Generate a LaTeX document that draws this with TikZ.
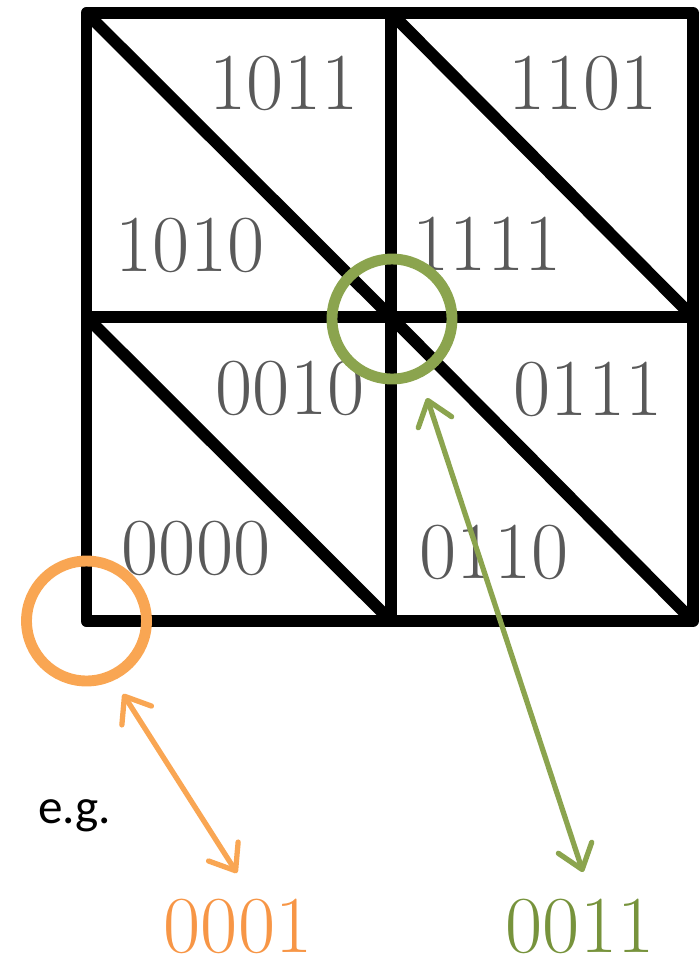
\documentclass[tikz,border=0pt]{standalone}
\usepackage{fontspec}
\newfontfamily\egfont{Carlito}
\usetikzlibrary{arrows.meta}
\definecolor{codegray}{RGB}{89,89,89}
\definecolor{ringorange}{RGB}{249,166,83}
\definecolor{textorange}{RGB}{247,150,70}
\definecolor{ringgreen}{RGB}{139,164,78}
\definecolor{textgreen}{RGB}{119,147,60}

\begin{document}
\begin{tikzpicture}[x=0.02cm,y=-0.02cm,
  edge/.style={line width=6.8pt,line join=round},
  code/.style={inner sep=0pt,text=codegray,font=\fontsize{46}{46}\selectfont},
  ring/.style={circle,draw=#1,line width=6.2pt,minimum size=2.4cm,inner sep=0pt},
  link/.style={draw=#1,line width=3pt,>={Straight Barb[length=13pt,width=20pt,round]},<->}]
  \useasboundingbox (0,0) rectangle (698,961);
  % grid of four cells, each cut by its diagonal
  \draw[edge] (86.5,13) rectangle (693,621);
  \draw[edge] (391,13) -- (391,621);
  \draw[edge] (86.5,317) -- (693,317);
  \draw[edge] (86.5,13) -- (391,317);
  \draw[edge] (391,13) -- (693,317);
  \draw[edge] (86.5,317) -- (391,621);
  \draw[edge] (391,317) -- (693,621);
  % codes of the triangles
  \node[code] (c1011) at (284,83) {1011};
  \node[code] (c1101) at (583,83) {1101};
  \node[code] (c1010) at (190,245) {1010};
  \node[code] (c1111) at (487,244) {1111};
  \node[code] (c0010) at (290,388) {0010};
  \node[code] (c0111) at (588,389) {0111};
  \node[code] (c0000) at (196,548) {0000};
  \node[code] (c0110) at (494,552) {0110};
  % vertices and their codes
  \node[ring=ringorange] (pt0001) at (86.5,621) {};
  \node[ring=ringgreen] (pt0011) at (392,319) {};
  \node[anchor=base west,inner sep=0pt,font=\egfont\fontsize{28}{28}\selectfont] (eg) at (38,823) {e.g.};
  \node[code,text=textorange] (v0001) at (238,926) {0001};
  \node[code,text=textgreen] (v0011) at (580,926) {0011};
  \coordinate (o1) at (123,694); \coordinate (o2) at (237,873);
  \coordinate (g1) at (427,398); \coordinate (g2) at (583,872);
  \draw[link=ringorange] (o1) -- (o2);
  \draw[link=ringgreen] (g1) -- (g2);
\end{tikzpicture}
\end{document}
